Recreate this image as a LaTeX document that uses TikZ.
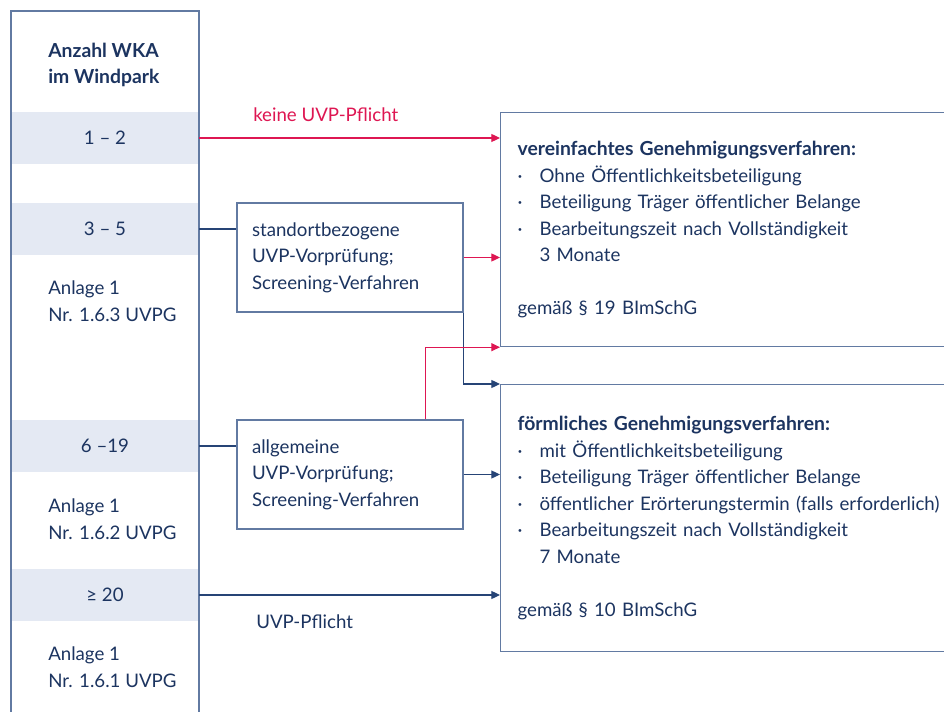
\documentclass[tikz,border=0pt]{standalone}
\usepackage{fontspec}
\setmainfont{Lato}
\usepackage{tikz}
\usetikzlibrary{arrows.meta, positioning, calc}
\definecolor{wkanavy}{RGB}{28,52,96}
\definecolor{wkaline}{RGB}{38,68,118}
\definecolor{wkaframe}{RGB}{98,122,162}
\definecolor{wkared}{RGB}{222,22,82}
\definecolor{wkaband}{RGB}{228,233,243}
\newcommand{\bul}{\makebox[16.5pt][l]{·}}

\begin{document}
\begin{tikzpicture}[
  x=0.75pt, y=-0.75pt,
  font=\fontsize{14pt}{19.9pt}\selectfont,
  every node/.style={text=wkanavy},
  band/.style={rectangle, fill=wkaband, minimum width=141pt, minimum height=39pt, inner sep=0pt},
  annot/.style={anchor=west, align=left, inner sep=0pt},
  check/.style={rectangle, draw=wkaframe, line width=0.9pt, minimum width=169.5pt,
                minimum height=81.75pt, text width=147pt, inner xsep=11.25pt, align=left},
  result/.style={rectangle, draw=wkaframe, line width=0.9pt, anchor=north west, align=left,
                 text width=360pt, inner xsep=12.75pt, inner ysep=0pt},
  link/.style={line width=0.9pt, draw=wkaline},
  arrow/.style={link, -{Triangle[length=6.5pt, width=6pt]}},
  redarrow/.style={arrow, draw=wkared},
]
  \useasboundingbox (0,0) rectangle (944,712);

  % left column
  \node[band] (band12)  at (105,138) {1 – 2};
  \node[band] (band35)  at (105,229) {3 – 5};
  \node[band] (band619) at (105,446) {6 –19};
  \node[band] (band20)  at (105,595) {≥ 20};
  \draw[draw=wkaframe, line width=0.9pt] (11,730) -- (11,11) -- (199,11) -- (199,730);

  \node[annot, font=\fontsize{14.5pt}{19.9pt}\bfseries] (head) at (48,65) {Anzahl WKA\\im Windpark};
  \node[annot] (anl3) at (48,301) {Anlage 1\\Nr. 1.6.3 UVPG};
  \node[annot] (anl2) at (48,519) {Anlage 1\\Nr. 1.6.2 UVPG};
  \node[annot] (anl1) at (48,667) {Anlage 1\\Nr. 1.6.1 UVPG};

  % Vorpruefung
  \node[check] (vorpr1) at (350,257.5) {standortbezogene\\UVP-Vorprüfung;\\Screening-Verfahren};
  \node[check] (vorpr2) at (350,474.5) {allgemeine\\UVP-Vorprüfung;\\Screening-Verfahren};

  % Verfahren
  \node[result, minimum height=175.5pt] (simple) at (500,112)
    {\textbf{\fontsize{14.5pt}{19.9pt}\selectfont vereinfachtes Genehmigungsverfahren:}\\
     \bul Ohne Öffentlichkeitsbeteiligung\\
     \bul Beteiligung Träger öffentlicher Belange\\
     \bul Bearbeitungszeit nach Vollständigkeit\\
     \hspace*{16.5pt}3 Monate\\[19.9pt]
     gemäß § 19 BImSchG};
  \node[result, minimum height=200.25pt] (formal) at (500,384)
    {\textbf{\fontsize{14.5pt}{19.9pt}\selectfont förmliches Genehmigungsverfahren:}\\
     \bul mit Öffentlichkeitsbeteiligung\\
     \bul Beteiligung Träger öffentlicher Belange\\
     \bul öffentlicher Erörterungstermin (falls erforderlich)\\
     \bul Bearbeitungszeit nach Vollständigkeit\\
     \hspace*{16.5pt}7 Monate\\[19.9pt]
     gemäß § 10 BImSchG};

  \draw[redarrow] (band12.east) -- (band12.east -| simple.west);
  \node[annot, text=wkared] (keine) at (253,115) {keine UVP-Pflicht};
  \draw[link] (band35.east) -- (band35.east -| vorpr1.west);
  \draw[redarrow] (vorpr1.east) -- (vorpr1.east -| simple.west);
  \draw[arrow] (vorpr1.south east) |- (formal.north west);
  \draw[link] (band619.east) -- (band619.east -| vorpr2.west);
  \draw[arrow] (vorpr2.east) -- (vorpr2.east -| formal.west);
  \draw[redarrow] ([xshift=-28.5pt]vorpr2.north east) |- (simple.south west);
  \draw[arrow] (band20.east) -- (band20.east -| formal.west);
  \node[annot] (pflicht) at (256,622) {UVP-Pflicht};
\end{tikzpicture}
\end{document}
